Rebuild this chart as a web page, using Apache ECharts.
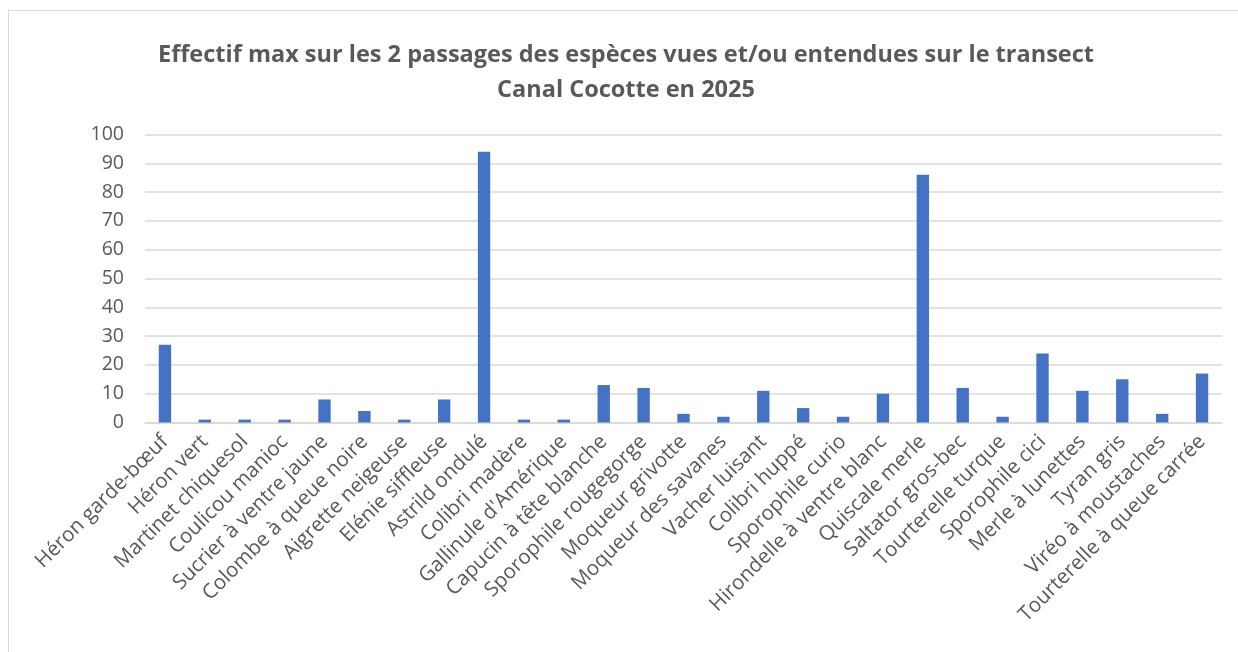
<!DOCTYPE html>
<html>
<head>
<meta charset="utf-8">
<script src="https://cdn.jsdelivr.net/npm/echarts@6/dist/echarts.min.js"></script>
<style>
  html, body { margin: 0; padding: 0; background: #fff; overflow: hidden; }
  #frame { position: absolute; left: 8px; top: 10px; width: 1260px; height: 700px; border: 1.5px solid #d9d9d9; box-sizing: border-box; }
  #chart { position: absolute; left: 0; top: 0; width: 1238px; height: 652px; }
</style>
</head>
<body>
<div id="frame"></div>
<div id="chart"></div>
<script>
const titleLines = [
  "Effectif max sur les 2 passages des espèces vues et/ou entendues sur le transect",
  "Canal Cocotte en 2025"
];
const species = [
  "Héron garde-bœuf", "Héron vert", "Martinet chiquesol", "Coulicou manioc",
  "Sucrier à ventre jaune", "Colombe à queue noire", "Aigrette neigeuse",
  "Elénie siffleuse", "Astrild ondulé", "Colibri madère", "Gallinule d'Amérique",
  "Capucin à tête blanche", "Sporophile rougegorge", "Moqueur grivotte",
  "Moqueur des savanes", "Vacher luisant", "Colibri huppé", "Sporophile curio",
  "Hirondelle à ventre blanc", "Quiscale merle", "Saltator gros-bec",
  "Tourterelle turque", "Sporophile cici", "Merle à lunettes", "Tyran gris",
  "Viréo à moustaches", "Tourterelle à queue carrée"
];
const effectifMax = [27, 1, 1, 1, 8, 4, 1, 8, 94, 1, 1, 13, 12, 3, 2, 11, 5, 2, 10, 86, 12, 2, 24, 11, 15, 3, 17];
const yMin = 0, yMax = 100, yStep = 10;

const chart = echarts.init(document.getElementById('chart'), null, { renderer: 'canvas' });
chart.setOption({
  animation: false,
  backgroundColor: 'transparent',
  title: {
    text: titleLines.join('\n'),
    left: 621,
    top: 33,
    textAlign: 'center',
    textStyle: {
      fontFamily: 'Open Sans',
      fontWeight: 'bold',
      fontSize: 23.5,
      color: '#595959',
      lineHeight: 35
    }
  },
  grid: { left: 145, right: 16, top: 134.5, bottom: 229.5, containLabel: false },
  xAxis: {
    type: 'category',
    data: species,
    axisLine: { show: true, lineStyle: { color: '#d9d9d9', width: 1.5 } },
    axisTick: { show: false },
    axisLabel: {
      interval: 0,
      rotate: 45,
      fontFamily: 'Open Sans',
      fontSize: 20.5,
      color: '#595959',
      margin: 16
    }
  },
  yAxis: {
    type: 'value',
    min: yMin, max: yMax, interval: yStep,
    axisLine: { show: false },
    axisTick: { show: false },
    splitLine: { lineStyle: { color: '#d9d9d9', width: 1.5 } },
    axisLabel: { fontFamily: 'Open Sans', fontSize: 19.5, color: '#595959', margin: 21 }
  },
  series: [{
    type: 'bar',
    data: effectifMax,
    barWidth: '31%',
    itemStyle: { color: '#4472c4' }
  }]
});
</script>
</body>
</html>
